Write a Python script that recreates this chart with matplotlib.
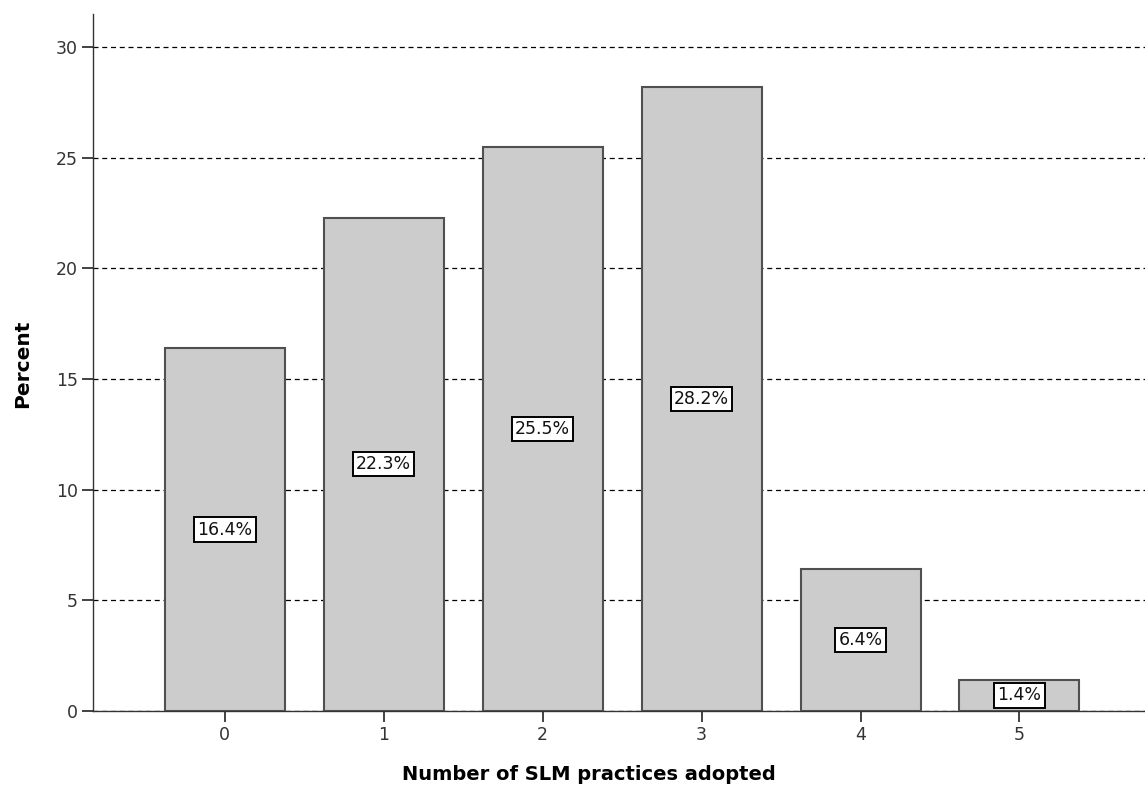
import matplotlib.pyplot as plt

plt.rcParams['font.family'] = ['DejaVu Sans']

practices = [0, 1, 2, 3, 4, 5]
percent = [16.4, 22.3, 25.5, 28.2, 6.4, 1.4]
yticks = [0, 5, 10, 15, 20, 25, 30]

fig = plt.figure(figsize=(11.45, 7.89), dpi=100)
ax = fig.add_axes([0.0812, 0.0989, 0.9188, 0.8834])

ax.bar(practices, percent, width=0.755, color='#cccccc', edgecolor='#505050', linewidth=1.5, zorder=3)

for x, v in zip(practices, percent):
    ax.text(x, v / 2, f'{v}%', ha='center', va='center', fontsize=12.5, color='#111111', zorder=4,
            bbox=dict(boxstyle='square,pad=0.18', facecolor='white', edgecolor='black', linewidth=1.4))

ax.set_xlim(-0.83, 5.79)
ax.set_ylim(0, 31.5)
ax.set_yticks(yticks)
ax.set_xticks(practices)
ax.yaxis.grid(True, linestyle=(0, (4, 3)), color='black', linewidth=0.9, zorder=0)
ax.set_axisbelow(True)

for s in ['top', 'right']:
    ax.spines[s].set_visible(False)
for s in ['left', 'bottom']:
    ax.spines[s].set_color('#333333')
    ax.spines[s].set_linewidth(1.0)

ax.tick_params(axis='both', labelsize=12.5, labelcolor='#333333', length=8, width=1.2, color='#222222', pad=3)

fig.text(0.020, 0.539, 'Percent', rotation=90, ha='center', va='center', fontsize=14.5, fontweight='bold')
fig.text(0.514, 0.018, 'Number of SLM practices adopted', ha='center', va='center', fontsize=14, fontweight='bold')

fig.savefig('out.png', dpi=100)
